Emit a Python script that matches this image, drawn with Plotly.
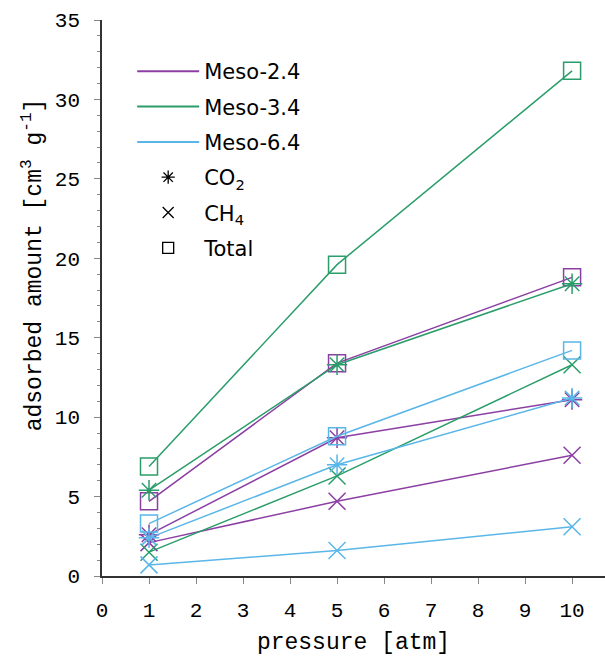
import plotly.graph_objects as go

pressure = [1, 5, 10]
series = ["Meso-2.4", "Meso-3.4", "Meso-6.4"]
colors = {"Meso-2.4": "#8B3FA3", "Meso-3.4": "#2A9D6A", "Meso-6.4": "#5AB6E8"}

co2 = {
    "Meso-2.4": [2.6, 8.7, 11.1],
    "Meso-3.4": [5.4, 13.3, 18.4],
    "Meso-6.4": [2.4, 7.0, 11.2],
}
ch4 = {
    "Meso-2.4": [2.1, 4.7, 7.6],
    "Meso-3.4": [1.5, 6.3, 13.3],
    "Meso-6.4": [0.7, 1.6, 3.1],
}
total = {
    "Meso-2.4": [4.7, 13.4, 18.8],
    "Meso-3.4": [6.9, 19.6, 31.8],
    "Meso-6.4": [3.3, 8.8, 14.2],
}

gases = [("CO<sub>2</sub>", co2, "asterisk-open"),
         ("CH<sub>4</sub>", ch4, "x-thin-open"),
         ("Total", total, "square-open")]

fig = go.Figure()

for s in series:
    for gname, data, sym in gases:
        fig.add_trace(go.Scatter(
            x=pressure, y=data[s], mode="lines+markers",
            line=dict(color=colors[s], width=1.5),
            marker=dict(symbol=sym, size=17, color=colors[s],
                        line=dict(color=colors[s], width=1.5)),
            showlegend=False, hoverinfo="skip"))

# legend entries
for s in series:
    fig.add_trace(go.Scatter(x=[None], y=[None], mode="lines", name=s,
                             line=dict(color=colors[s], width=2),
                             legendgroup=s))
for gname, data, sym in gases:
    fig.add_trace(go.Scatter(x=[None], y=[None], mode="markers", name=gname,
                             marker=dict(symbol=sym, size=11, color="black",
                                         line=dict(color="black", width=1.3)),
                             legendgroup=gname))

mono = "Liberation Mono, Courier New, monospace"
fig.update_layout(
    width=605, height=656,
    margin=dict(l=102, r=0, t=20, b=80),
    paper_bgcolor="white", plot_bgcolor="white",
    font=dict(family=mono, size=21, color="black"),
    legend=dict(x=0.06, y=0.944, xanchor="left", yanchor="top",
                font=dict(family="DejaVu Sans, sans-serif", size=21, color="black"),
                bgcolor="rgba(0,0,0,0)", tracegroupgap=5, itemwidth=62),
    xaxis=dict(range=[0, 10.7], tickmode="array", tickvals=list(range(0, 11)),
               showline=True, linecolor="#333", linewidth=1.5, ticks="outside",
               ticklen=6, tickcolor="#888", showgrid=False, zeroline=False,
               ticklabelstandoff=8, automargin=False,
               title=dict(text="pressure [atm]", font=dict(family=mono, size=23), standoff=19),
               tickfont=dict(family=mono, size=21)),
    yaxis=dict(range=[0, 35], tickmode="array", tickvals=list(range(0, 36, 5)),
               showline=True, linecolor="#333", linewidth=1.5, ticks="outside",
               ticklen=6, tickcolor="#888", showgrid=False, zeroline=False,
               ticklabelstandoff=10,
               minor=dict(dtick=1, ticks="outside", ticklen=3, tickcolor="#888"),
               tickfont=dict(family=mono, size=21)),
    annotations=[dict(text="adsorbed amount [cm<sup>3</sup> g<sup>-1</sup>]",
                      textangle=-90, xref="paper", yref="paper",
                      x=-0.137, y=0.559, xanchor="center", yanchor="middle",
                      showarrow=False, font=dict(family=mono, size=23))],
)

fig.write_html("out.html")
